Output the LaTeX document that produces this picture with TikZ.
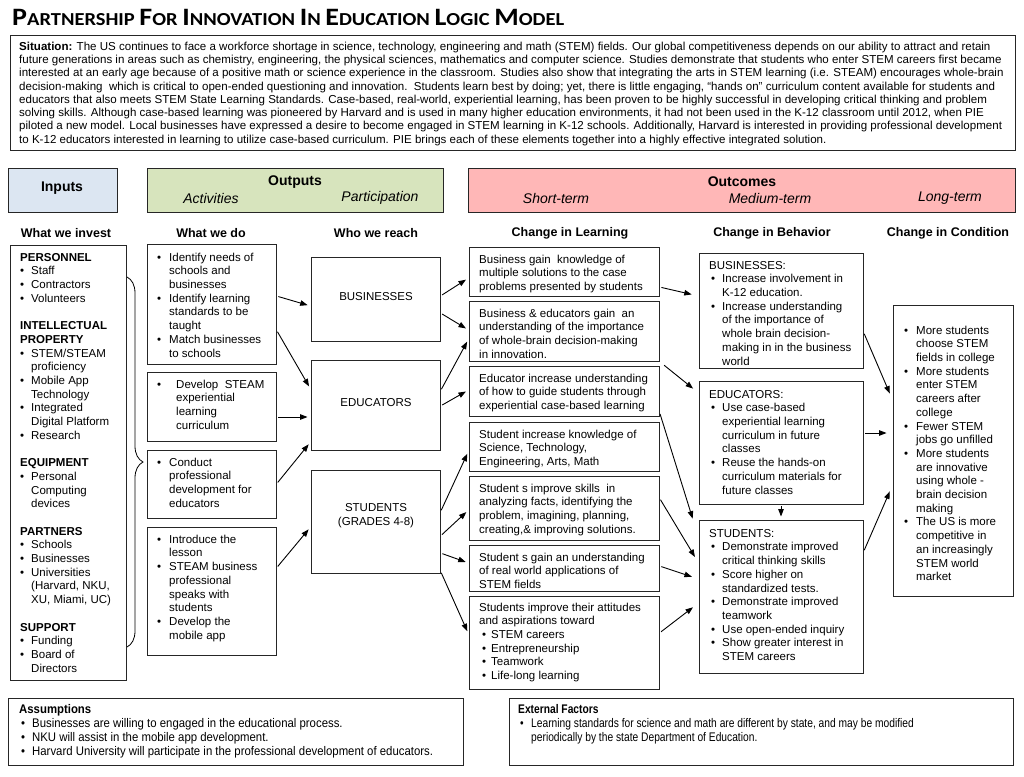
\documentclass[tikz,border=0pt]{standalone}
\usepackage{fontspec}
\setmainfont{Liberation Sans}
\newfontfamily\titlefont[FakeStretch=1.12]{Carlito}
\newfontfamily\narrowfont[FakeStretch=0.82]{Liberation Sans}
\newfontfamily\semifont[FakeStretch=0.91]{Liberation Sans}
\usetikzlibrary{arrows.meta,fit,decorations.pathreplacing}
\definecolor{inpblue}{RGB}{220,230,242}
\definecolor{outgreen}{RGB}{215,228,189}
\definecolor{outpink}{RGB}{255,183,183}
\newcommand\fs{\fontsize{11.5}{13.7}\selectfont}
\newcommand\bl[2][11]{\makebox[#1pt][l]{\textbullet}#2}
\newcommand\cl[2][11]{\hspace*{#1pt}#2}
\newcommand\tc[2]{{\fontsize{25}{25}\selectfont #1}#2}
\begin{document}
\begin{tikzpicture}[x=1pt,y=-1pt,
  box/.style={draw=black!85, line width=0.9pt, inner sep=0pt},
  txt/.style={inner sep=0pt, anchor=north west, align=left, font=\fs},
  lbl/.style={inner sep=0pt, font=\fs, align=center},
  colh/.style={inner sep=0pt, font=\bfseries\fontsize{12.5}{14}\selectfont},
  hb/.style={inner sep=0pt, font=\bfseries\fontsize{14}{16}\selectfont},
  hi/.style={inner sep=0pt, font=\itshape\fontsize{14}{16}\selectfont},
  arr/.style={-{Triangle[length=7.5pt,width=5.5pt]}, line width=0.9pt, shorten <=2pt, shorten >=3pt}]
\useasboundingbox (0,0) rectangle (1024,776);
% title
\node[anchor=base west, inner sep=0pt, font={\titlefont\bfseries\fontsize{18.3}{20}\selectfont}] (title) at (12,26)
  {\tc{P}{ARTNERSHIP} \tc{F}{OR} \tc{I}{NNOVATION} \tc{I}{N} \tc{E}{DUCATION} \tc{L}{OGIC} \tc{M}{ODEL}};
% situation
\node[box, fit={(10,35)(1015,150)}] (sit) {};
\node[txt, font=\fontsize{11.55}{13.3}\selectfont] (sittxt) at (19,40.6) {\strut\textbf{Situation:} The US continues to face a workforce shortage in science, technology, engineering and math (STEM) fields. Our global competitiveness depends on our ability to attract and retain\\
future generations in areas such as chemistry, engineering, the physical sciences, mathematics and computer science. Studies demonstrate that students who enter STEM careers first became\\
interested at an early age because of a positive math or science experience in the classroom. Studies also show that integrating the arts in STEM learning (i.e. STEAM) encourages whole-brain\\
decision-making\ \ which is critical to open-ended questioning and innovation.\ \ Students learn best by doing; yet, there is little engaging, “hands on” curriculum content available for students and\\
educators that also meets STEM State Learning Standards. Case-based, real-world, experiential learning, has been proven to be highly successful in developing critical thinking and problem\\
solving skills. Although case-based learning was pioneered by Harvard and is used in many higher education environments, it had not been used in the K-12 classroom until 2012, when PIE\\
piloted a new model. Local businesses have expressed a desire to become engaged in STEM learning in K-12 schools. Additionally, Harvard is interested in providing professional development\\
to K-12 educators interested in learning to utilize case-based curriculum. PIE brings each of these elements together into a highly effective integrated solution.};
% header boxes
\node[box, fill=inpblue, fit={(8,168)(117,212)}] (hin) {};
\node[box, fill=outgreen, fit={(147,168)(443,212)}] (hout) {};
\node[box, fill=outpink, fit={(468,168)(1015,212)}] (hoc) {};
\node[hb] (hinl) at (62,188) {Inputs};
\node[hb] (houtl) at (295,182) {Outputs};
\node[hi] (hact) at (211,198) {Activities};
\node[hi] (hpar) at (380,198) {Participation};
\node[hb] (hocl) at (742,182) {Outcomes};
\node[hi] (hst) at (556,198) {Short-term};
\node[hi] (hmt) at (770,198) {Medium-term};
\node[hi] (hlt) at (950,198) {Long-term};
% column headers
\node[colh] (c1) at (66,233) {What we invest};
\node[colh] (c2) at (211,233) {What we do};
\node[colh] (c3) at (376,233) {Who we reach};
\node[colh] (c4) at (570,233) {Change in Learning};
\node[colh] (c5) at (772,233) {Change in Behavior};
\node[colh] (c6) at (948,233) {Change in Condition};
% boxes
\node[box, fit={(10,245)(126,680)}] (inp) {};
\node[box, fit={(147,244)(276,364)}] (a1) {};
\node[box, fit={(147,372)(276,441)}] (a2) {};
\node[box, fit={(147,450)(276,518)}] (a3) {};
\node[box, fit={(147,527)(276,655)}] (a4) {};
\node[box, fit={(311,257)(440,341)}] (bus) {};
\node[box, fit={(311,360)(440,450)}] (edu) {};
\node[box, fit={(311,470)(440,573)}] (stu) {};
\node[box, fit={(469,247)(659,296)}] (s1) {};
\node[box, fit={(469,301)(659,361)}] (s2) {};
\node[box, fit={(469,366)(659,416)}] (s3) {};
\node[box, fit={(469,422)(659,471)}] (s4) {};
\node[box, fit={(469,476)(659,540)}] (s5) {};
\node[box, fit={(469,545)(659,591)}] (s6) {};
\node[box, fit={(469,596)(659,689)}] (s7) {};
\node[box, fit={(699,253)(863,368)}] (mb) {};
\node[box, fit={(699,381)(863,504)}] (me) {};
\node[box, fit={(699,520)(863,673)}] (ms) {};
\node[box, fit={(893,305)(1013,596)}] (lt) {};
\node[box, fit={(8,698)(463,765)}] (asm) {};
\node[box, fit={(509,698)(1013,765)}] (ext) {};
% inputs text
\node[txt] (inptxt) at (20,251.4) {\strut\textbf{PERSONNEL}\\
\bl{Staff}\\ \bl{Contractors}\\ \bl{Volunteers}\\ \mbox{}\\
\textbf{INTELLECTUAL}\\ \textbf{PROPERTY}\\
\bl{STEM/STEAM}\\ \cl{proficiency}\\ \bl{Mobile App}\\ \cl{Technology}\\ \bl{Integrated}\\ \cl{Digital Platform}\\ \bl{Research}\\ \mbox{}\\
\textbf{EQUIPMENT}\\ \bl{Personal}\\ \cl{Computing}\\ \cl{devices}\\ \mbox{}\\
\textbf{PARTNERS}\\ \bl{Schools}\\ \bl{Businesses}\\ \bl{Universities}\\ \cl{(Harvard, NKU,}\\ \cl{XU, Miami, UC)}\\ \mbox{}\\
\textbf{SUPPORT}\\ \bl{Funding}\\ \bl{Board of}\\ \cl{Directors}};
% activities text
\node[txt] (a1t) at (157,251.4) {\strut\bl[12]{Identify needs of}\\ \cl[12]{schools and}\\ \cl[12]{businesses}\\ \bl[12]{Identify learning}\\ \cl[12]{standards to be}\\ \cl[12]{taught}\\ \bl[12]{Match businesses}\\ \cl[12]{to schools}};
\node[txt] (a2t) at (157,378.4) {\strut\bl[19]{Develop\ \ STEAM}\\ \cl[19]{experiential}\\ \cl[19]{learning}\\ \cl[19]{curriculum}};
\node[txt] (a3t) at (157,456.4) {\strut\bl[12]{Conduct}\\ \cl[12]{professional}\\ \cl[12]{development for}\\ \cl[12]{educators}};
\node[txt] (a4t) at (157,533.4) {\strut\bl[12]{Introduce the}\\ \cl[12]{lesson}\\ \bl[12]{STEAM business}\\ \cl[12]{professional}\\ \cl[12]{speaks with}\\ \cl[12]{students}\\ \bl[12]{Develop the}\\ \cl[12]{mobile app}};
% participation labels
\node[lbl] (busl) at (376,297) {BUSINESSES};
\node[lbl] (edul) at (376,403) {EDUCATORS};
\node[lbl] (stul) at (376,516) {STUDENTS\\(GRADES 4-8)};
% short-term text
\node[txt] (s1t) at (479,253.4) {\strut Business gain\ \ knowledge of\\ multiple solutions to the case\\ problems presented by students};
\node[txt] (s2t) at (479,307.4) {\strut Business \& educators gain\ \ an\\ understanding of the importance\\ of whole-brain decision-making\\ in innovation.};
\node[txt] (s3t) at (479,372.4) {\strut Educator increase understanding\\ of how to guide students through\\ experiential case-based learning};
\node[txt] (s4t) at (479,428.4) {\strut Student increase knowledge of\\ Science, Technology,\\ Engineering, Arts, Math};
\node[txt] (s5t) at (479,482.4) {\strut Student s improve skills\ \ in\\ analyzing facts, identifying the\\ problem, imagining, planning,\\ creating,\& improving solutions.};
\node[txt] (s6t) at (479,551.4) {\strut Student s gain an understanding\\ of real world applications of\\ STEM fields};
\node[txt] (s7t) at (479,601.4) {\strut Students improve their attitudes\\ and aspirations toward\\ \hspace*{3pt}\bl[9]{STEM careers}\\ \hspace*{3pt}\bl[9]{Entrepreneurship}\\ \hspace*{3pt}\bl[9]{Teamwork}\\ \hspace*{3pt}\bl[9]{Life-long learning}};
% medium-term text
\node[txt] (mbt) at (709,259.4) {\strut BUSINESSES:\\ \hspace*{2pt}\bl{Increase involvement in}\\ \cl[13]{K-12 education.}\\ \hspace*{2pt}\bl{Increase understanding}\\ \cl[13]{of the importance of}\\ \cl[13]{whole brain decision-}\\ \cl[13]{making in in the business}\\ \cl[13]{world}};
\node[txt] (met) at (709,388.4) {\strut EDUCATORS:\\ \hspace*{2pt}\bl{Use case-based}\\ \cl[13]{experiential learning}\\ \cl[13]{curriculum in future}\\ \cl[13]{classes}\\ \hspace*{2pt}\bl{Reuse the hands-on}\\ \cl[13]{curriculum materials for}\\ \cl[13]{future classes}};
\node[txt] (mst) at (709,527.4) {\strut STUDENTS:\\ \hspace*{2pt}\bl{Demonstrate improved}\\ \cl[13]{critical thinking skills}\\ \hspace*{2pt}\bl{Score higher on}\\ \cl[13]{standardized tests.}\\ \hspace*{2pt}\bl{Demonstrate improved}\\ \cl[13]{teamwork}\\ \hspace*{2pt}\bl{Use open-ended inquiry}\\ \hspace*{2pt}\bl{Show greater interest in}\\ \cl[13]{STEM careers}};
% long-term text
\node[txt] (ltt) at (904,324.4) {\strut\bl[12]{More students}\\ \cl[12]{choose STEM}\\ \cl[12]{fields in college}\\ \bl[12]{More students}\\ \cl[12]{enter STEM}\\ \cl[12]{careers after}\\ \cl[12]{college}\\ \bl[12]{Fewer STEM}\\ \cl[12]{jobs go unfilled}\\ \bl[12]{More students}\\ \cl[12]{are innovative}\\ \cl[12]{using whole -}\\ \cl[12]{brain decision}\\ \cl[12]{making}\\ \bl[12]{The US is more}\\ \cl[12]{competitive in}\\ \cl[12]{an increasingly}\\ \cl[12]{STEM world}\\ \cl[12]{market}};
% bottom text
\node[txt, font=\semifont\fontsize{12.5}{14}\selectfont] (asmt) at (19,703.7) {\strut\textbf{Assumptions}\\ \hspace*{2pt}\bl{Businesses are willing to engaged in the educational process.}\\ \hspace*{2pt}\bl{NKU will assist in the mobile app development.}\\ \hspace*{2pt}\bl{Harvard University will participate in the professional development of educators.}};
\node[txt, font=\narrowfont\fontsize{12.5}{14}\selectfont] (extt) at (518,703.7) {\strut\textbf{External Factors}\\ \hspace*{2pt}\bl{Learning standards for science and math are different by state, and may be modified}\\ \cl[13]{periodically by the state Department of Education.}};
% brace
\coordinate (bt) at (127,277);
\coordinate (bb) at (127,647);
\draw[line width=0.8pt, decorate, decoration={brace, amplitude=16pt}] (bt) -- (bb);
% arrows: activities -> participation
\draw[arr] (a1.east|-0,296) -- (bus.west|-0,306);
\draw[arr] (a1.east|-0,330) -- (edu.west|-0,389);
\draw[arr] (a2.east|-0,417) -- (edu.west|-0,417);
\draw[arr] (a3.east|-0,484) -- (edu.west|-0,442);
\draw[arr] (a4.east|-0,568) -- (stu.west|-0,527);
% participation -> short-term
\draw[arr] (bus.east|-0,296) -- (s1.west|-0,278);
\draw[arr] (bus.east|-0,313) -- (s2.west|-0,330);
\draw[arr] (edu.east|-0,391) -- (s2.west|-0,339);
\draw[arr] (edu.east|-0,406) -- (s3.west|-0,390);
\draw[arr] (stu.east|-0,512) -- (s4.west|-0,451);
\draw[arr] (stu.east|-0,536) -- (s5.west|-0,510);
\draw[arr] (stu.east|-0,553) -- (s6.west|-0,563);
\draw[arr] (stu.east|-0,571) -- (s7.west|-0,634);
% short-term -> medium-term
\draw[arr, shorten >=7pt] (s1.east|-0,287) -- (mb.west|-0,296);
\draw[arr, shorten <=6pt, shorten >=7pt] (s2.south east) -- (me.west|-0,393);
\draw[arr] (s3.east|-0,412) -- ([xshift=-5pt,yshift=-2pt]ms.north west);
\draw[arr, shorten >=7pt] (s5.east|-0,498) -- (ms.west|-0,563);
\draw[arr, shorten >=7pt] (s6.east|-0,566) -- (ms.west|-0,579);
\draw[arr, shorten >=7pt] (s7.east|-0,633) -- (ms.west|-0,603);
% medium -> long
\draw[arr, shorten >=7pt] (mb.east|-0,332) -- (lt.west|-0,400);
\draw[arr, shorten >=6pt] (me.east|-0,433) -- (lt.west|-0,433);
\draw[arr] (me.south) -- (ms.north);
\draw[arr, shorten >=7pt] (ms.east|-0,552) -- (lt.west|-0,485);
\end{tikzpicture}
\end{document}
